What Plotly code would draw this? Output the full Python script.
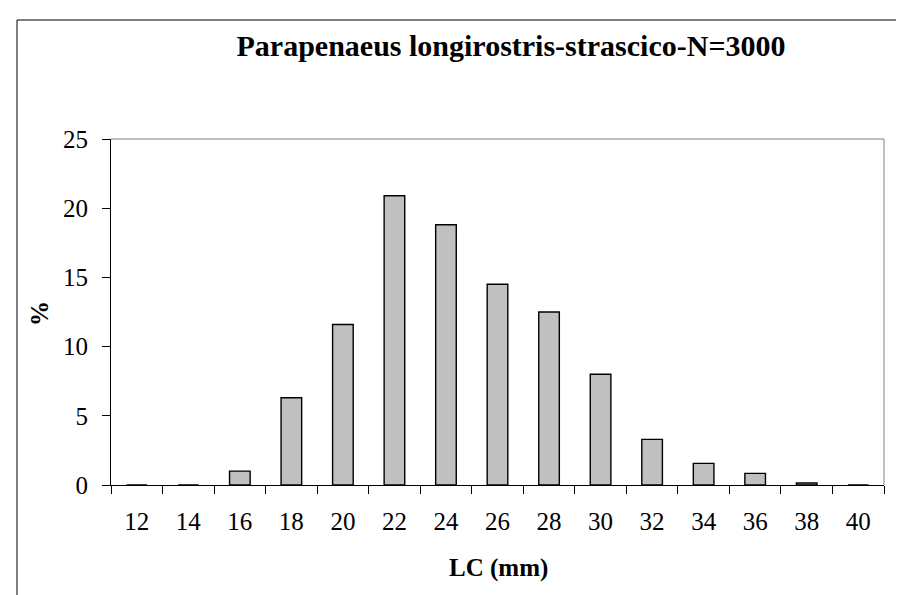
import plotly.graph_objects as go

categories = ["12", "14", "16", "18", "20", "22", "24", "26", "28", "30", "32", "34", "36", "38", "40"]
percent = [0, 0, 1.0, 6.3, 11.6, 20.9, 18.8, 14.5, 12.5, 8.0, 3.3, 1.56, 0.84, 0.14, 0]
y_ticks = [0, 5, 10, 15, 20, 25]

W, H = 904, 595
L, R, T, B = 103, 876, 131, 477
pw, ph = R - L, B - T

def px_x(x):
    return (x - L) / pw

def px_y(y):
    return (B - y) / ph

font = "Liberation Serif"

fig = go.Figure(go.Bar(
    x=categories, y=percent,
    marker=dict(color="#C0C0C0", line=dict(color="black", width=1.4)),
    width=0.4,
))

fig.update_layout(
    width=W, height=H,
    margin=dict(l=L, r=W - R, t=T, b=H - B, pad=0),
    paper_bgcolor="white", plot_bgcolor="white",
    font=dict(family=font, size=25, color="black"),
    showlegend=False,
    title=dict(text="<b>Parapenaeus longirostris-strascico-N=3000</b>",
               x=503 / W, xanchor="center", y=1 - 37 / H, yanchor="middle",
               font=dict(family=font, size=30, color="black")),
    xaxis=dict(type="category", tickson="boundaries", ticks="outside", ticklen=8,
               tickcolor="black", tickwidth=1, showline=True, linecolor="black",
               linewidth=1, showgrid=False, zeroline=False, ticklabelstandoff=14,
               tickfont=dict(family=font, size=25, color="black")),
    yaxis=dict(range=[0, 25], tickvals=y_ticks, ticks="outside", ticklen=8,
               tickcolor="black", tickwidth=1, showline=True, linecolor="black",
               linewidth=1, showgrid=False, zeroline=False, ticklabelstandoff=9,
               tickfont=dict(family=font, size=25, color="black")),
    bargap=0.6,
)

fig.add_annotation(text="<b>LC (mm)</b>", xref="paper", yref="paper",
                   x=px_x(490), y=px_y(560), xanchor="center", yanchor="middle",
                   showarrow=False, font=dict(family=font, size=25, color="black"))
fig.add_annotation(text="<b>%</b>", xref="paper", yref="paper",
                   x=px_x(31), y=px_y(306), xanchor="center", yanchor="middle",
                   textangle=-90, showarrow=False,
                   font=dict(family=font, size=25, color="black"))

# plot-area frame (top and right, gray)
fig.add_shape(type="line", xref="paper", yref="paper", x0=0, x1=1, y0=1, y1=1,
              line=dict(color="#808080", width=1))
fig.add_shape(type="line", xref="paper", yref="paper", x0=1, x1=1, y0=0, y1=1,
              line=dict(color="#808080", width=1))
# outer chart border (left and top visible)
fig.add_shape(type="line", xref="paper", yref="paper", x0=px_x(9), x1=px_x(W + 5),
              y0=px_y(12), y1=px_y(12), line=dict(color="black", width=1))
fig.add_shape(type="line", xref="paper", yref="paper", x0=px_x(9), x1=px_x(9),
              y0=px_y(12), y1=px_y(H + 5), line=dict(color="black", width=1))

fig.write_html("out.html")
